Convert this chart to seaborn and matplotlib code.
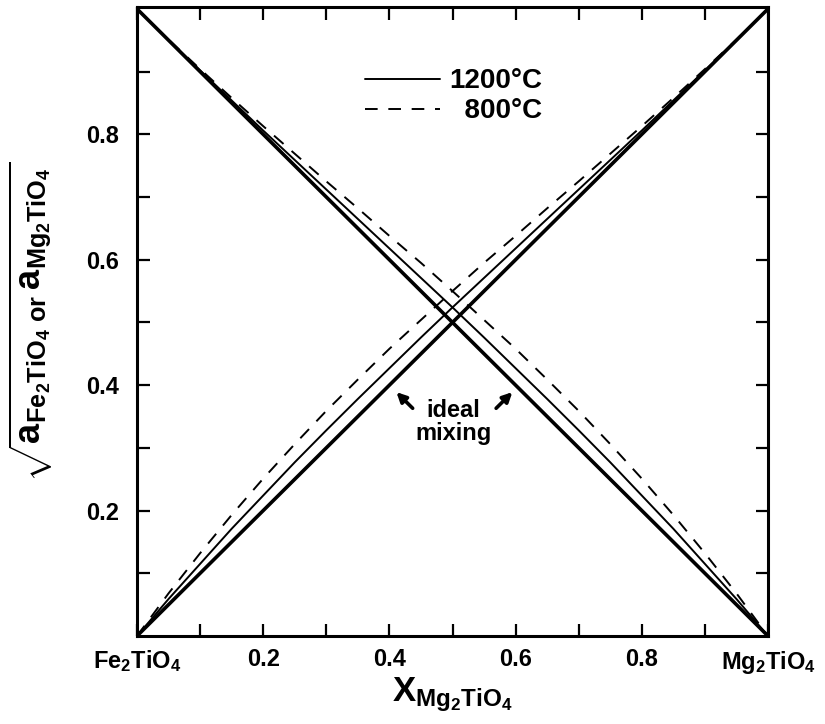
import matplotlib
matplotlib.use("Agg")
import matplotlib.pyplot as plt
import seaborn as sns
import numpy as np
import pandas as pd
from matplotlib.lines import Line2D

# ---- data ----
x_mg = [0.00, 0.05, 0.10, 0.15, 0.20, 0.25, 0.30, 0.35, 0.40, 0.45, 0.50,
        0.55, 0.60, 0.65, 0.70, 0.75, 0.80, 0.85, 0.90, 0.95, 1.00]
ideal_mg = [0.00, 0.05, 0.10, 0.15, 0.20, 0.25, 0.30, 0.35, 0.40, 0.45, 0.50,
            0.55, 0.60, 0.65, 0.70, 0.75, 0.80, 0.85, 0.90, 0.95, 1.00]
mg_1200 = [0.000, 0.059, 0.115, 0.171, 0.224, 0.277, 0.328, 0.378, 0.427, 0.476, 0.524,
           0.571, 0.618, 0.665, 0.712, 0.759, 0.806, 0.854, 0.902, 0.950, 1.000]
mg_800 = [0.000, 0.068, 0.132, 0.193, 0.251, 0.306, 0.359, 0.409, 0.458, 0.504, 0.550,
          0.595, 0.638, 0.682, 0.725, 0.769, 0.813, 0.858, 0.904, 0.951, 1.000]
ideal_fe = [1.00, 0.95, 0.90, 0.85, 0.80, 0.75, 0.70, 0.65, 0.60, 0.55, 0.50,
            0.45, 0.40, 0.35, 0.30, 0.25, 0.20, 0.15, 0.10, 0.05, 0.00]
fe_1200 = [1.000, 0.950, 0.902, 0.854, 0.806, 0.759, 0.712, 0.665, 0.618, 0.571, 0.524,
           0.476, 0.427, 0.378, 0.328, 0.277, 0.224, 0.171, 0.115, 0.059, 0.000]
fe_800 = [1.000, 0.951, 0.904, 0.858, 0.813, 0.769, 0.725, 0.682, 0.638, 0.595, 0.550,
          0.504, 0.458, 0.409, 0.359, 0.306, 0.251, 0.193, 0.132, 0.068, 0.000]

x_ticks = [0.0, 0.1, 0.2, 0.3, 0.4, 0.5, 0.6, 0.7, 0.8, 0.9, 1.0]
x_ticklabels = [r'$\mathbf{Fe_2TiO_4}$', '', '0.2', '', '0.4', '', '0.6', '', '0.8', '',
                r'$\mathbf{Mg_2TiO_4}$']
y_ticks = [0.1, 0.2, 0.3, 0.4, 0.5, 0.6, 0.7, 0.8, 0.9]
y_ticklabels = ['', '0.2', '', '0.4', '', '0.6', '', '0.8', '']
legend_labels = ['1200°C', '  800°C']

df = pd.DataFrame({'x': x_mg, 'ideal_mg': ideal_mg, 'mg_1200': mg_1200, 'mg_800': mg_800,
                   'ideal_fe': ideal_fe, 'fe_1200': fe_1200, 'fe_800': fe_800})

# ---- style ----
sns.set_style('ticks')
plt.rcParams['font.family'] = ['Liberation Sans', 'DejaVu Sans']
plt.rcParams['font.weight'] = 'bold'
plt.rcParams['text.color'] = 'black'
plt.rcParams['axes.labelcolor'] = 'black'
plt.rcParams['xtick.color'] = 'black'
plt.rcParams['ytick.color'] = 'black'
plt.rcParams['mathtext.fontset'] = 'custom'
plt.rcParams['mathtext.bf'] = 'Liberation Sans:bold'
plt.rcParams['mathtext.rm'] = 'Liberation Sans:bold'
plt.rcParams['mathtext.default'] = 'bf'

fig = plt.figure(figsize=(8.25, 7.24), dpi=100)
ax = fig.add_axes([137/825, 88/724, 631/825, 629/724])

dash = (0, (6.5, 5.5))
for col, lw, ls in [('ideal_mg', 2.6, '-'), ('ideal_fe', 2.6, '-'),
                    ('mg_1200', 1.4, '-'), ('fe_1200', 1.4, '-'),
                    ('mg_800', 1.4, dash), ('fe_800', 1.4, dash)]:
    sns.lineplot(data=df, x='x', y=col, ax=ax, color='black', linewidth=lw,
                 linestyle=ls, legend=False)

ax.set_xlim(0, 1)
ax.set_ylim(0, 1.003)

ax.set_xticks(x_ticks)
ax.set_xticklabels(x_ticklabels, fontsize=17, fontweight='bold', color='black')
ax.set_yticks(y_ticks)
ax.set_yticklabels(y_ticklabels, fontsize=17, fontweight='bold', color='black')
ax.tick_params(axis='both', direction='in', length=9, width=1.6,
               top=True, right=True, colors='black')
ax.tick_params(axis='x', pad=9)
ax.tick_params(axis='y', pad=13)
for s in ax.spines.values():
    s.set_linewidth(2.2)
    s.set_color('black')

ax.set_xlabel(r'$\mathbf{X}_{\mathbf{Mg_2TiO_4}}$', fontsize=25, labelpad=0, color='black')
ax.set_ylabel(r'$\sqrt{\mathbf{a}_{\mathbf{Fe_2TiO_4}}\,{}_{\mathbf{or}}\,\mathbf{a}_{\mathbf{Mg_2TiO_4}}}$',
              fontsize=26, labelpad=22, color='black')

handles = [Line2D([], [], color='black', lw=1.4, ls='-'),
           Line2D([], [], color='black', lw=1.4, ls=dash)]
leg = ax.legend(handles, legend_labels, loc='center left', bbox_to_anchor=(0.362, 0.858),
                frameon=False, handlelength=2.7, handletextpad=0.3,
                labelspacing=0.15, borderpad=0, borderaxespad=0,
                prop={'weight': 'bold', 'size': 20})
for t in leg.get_texts():
    t.set_color('black')

ax.text(0.501, 0.342, 'ideal\nmixing', ha='center', va='center', fontsize=17,
        fontweight='bold', linespacing=1.0, color='black')
ax.annotate('', xy=(0.408, 0.392), xytext=(0.440, 0.360),
            arrowprops=dict(arrowstyle='-|>', color='black', lw=2.6, mutation_scale=14))
ax.annotate('', xy=(0.598, 0.392), xytext=(0.566, 0.360),
            arrowprops=dict(arrowstyle='-|>', color='black', lw=2.6, mutation_scale=14))

fig.savefig('out.png', dpi=100)
